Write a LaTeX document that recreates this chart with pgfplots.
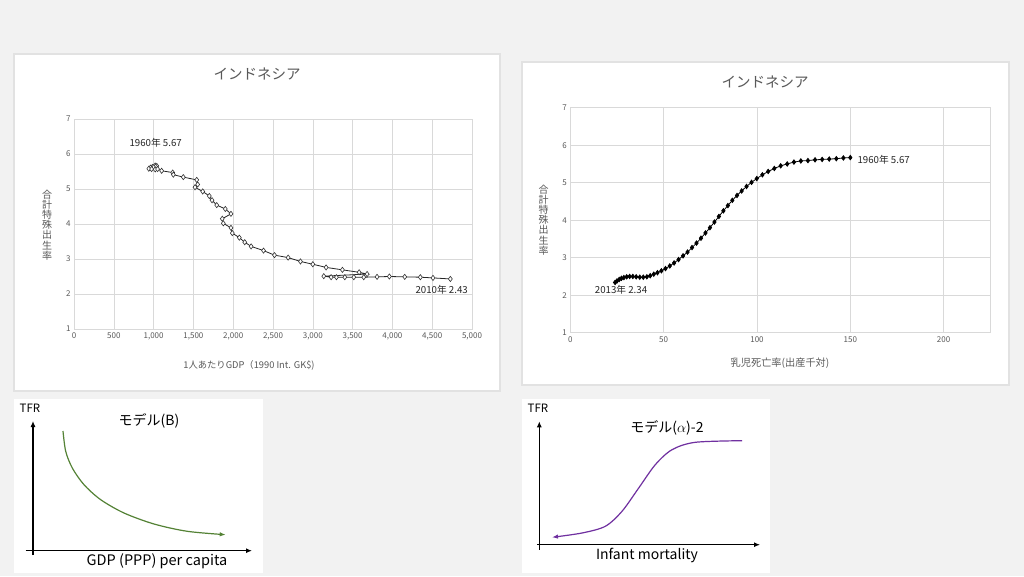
\documentclass[border=0pt]{standalone}
\usepackage{fontspec}
\setmainfont{Noto Sans CJK JP}
\usepackage{pgfplots}
\pgfplotsset{compat=1.18}
\usetikzlibrary{arrows.meta}
\definecolor{bgc}{HTML}{F2F2F2}
\definecolor{panelc}{HTML}{E2E2E2}
\definecolor{gridc}{HTML}{D9D9D9}
\definecolor{tickc}{HTML}{595959}
\definecolor{greenc}{HTML}{548235}
\definecolor{purplec}{HTML}{7030A0}
\begin{document}
\begin{tikzpicture}
\begin{scope}[x=1pt,y=1pt]
\fill[bgc] (0,0) rectangle (1024,576);
\filldraw[fill=white,draw=panelc,line width=1.2pt] (14,522) rectangle (500,185);
\filldraw[fill=white,draw=panelc,line width=1.2pt] (522,514) rectangle (1009,191);
\fill[white] (14,177) rectangle (263,3);
\fill[white] (522,177) rectangle (770,3);
\end{scope}

% ---------- Panel 1 ----------
\begin{axis}[at={(74pt,247pt)},anchor=south west,scale only axis,
  width=398pt,height=210pt,
  xmin=0,xmax=5000,ymin=1,ymax=7,
  xtick={0,500,...,5000},ytick={1,...,7},
  grid=major,grid style={gridc,line width=0.6pt},
  axis line style={gridc,line width=0.6pt},
  major tick length=0pt,
  tick label style={font=\fontsize{8}{9}\selectfont,text=tickc},
  /pgf/number format/assume math mode=true,
  xticklabel style={/pgf/number format/1000 sep={,}},
  scaled x ticks=false,
  clip=false]
\addplot[black!85,line width=0.8pt,mark=diamond*,mark size=2.6pt,
  mark options={fill=white,draw=black!80,line width=0.6pt}] coordinates {
(1019,5.67)(1040,5.66)(1025,5.64)(985,5.63)(1000,5.62)(960,5.61)(940,5.58)(975,5.57)(1020,5.56)(1050,5.57)
(1101,5.52)(1240,5.47)(1248,5.41)(1373,5.34)(1542,5.26)(1554,5.13)(1520,5.05)(1617,4.93)(1700,4.80)(1734,4.68)
(1793,4.54)(1901,4.43)(1972,4.29)(1863,4.15)(1876,4.02)(1972,3.89)(1989,3.74)(2077,3.61)(2145,3.48)(2225,3.36)
(2381,3.24)(2519,3.11)(2690,3.04)(2845,2.93)(3000,2.85)(3167,2.76)(3372,2.69)(3582,2.62)(3682,2.57)
(3138,2.51)(3230,2.48)(3297,2.48)(3402,2.48)(3515,2.48)(3640,2.48)(3807,2.49)(3962,2.50)(4155,2.49)(4351,2.48)(4510,2.46)(4728,2.43)
};
\node[font=\fontsize{9.7}{11}\selectfont,text=black!85] at (axis cs:1026,6.31) {1960年 5.67};
\node[font=\fontsize{9.7}{11}\selectfont,text=black!85] at (axis cs:4619,2.13) {2010年 2.43};
\end{axis}

% ---------- Panel 2 ----------
\begin{axis}[at={(570.3pt,243.3pt)},anchor=south west,scale only axis,
  width=420pt,height=225pt,
  xmin=0,xmax=225,ymin=1,ymax=7,
  xtick={0,50,...,200},ytick={1,...,7},
  grid=major,grid style={gridc,line width=0.6pt},
  axis line style={gridc,line width=0.6pt},
  major tick length=0pt,
  tick label style={font=\fontsize{8}{9}\selectfont,text=tickc},
  /pgf/number format/assume math mode=true,
  clip=false]
\addplot[black,line width=0.8pt,mark=diamond*,mark size=2.2pt,
  mark options={fill=black,draw=black}] coordinates {
(24.0,2.34)(25.0,2.38)(26.2,2.42)(27.4,2.45)(28.7,2.47)(30.2,2.49)(31.8,2.50)(33.5,2.50)(35.3,2.49)(37.2,2.48)
(39.1,2.48)(41.0,2.49)(42.8,2.52)(44.7,2.56)(46.7,2.60)(48.8,2.65)(51.0,2.71)(53.3,2.78)(55.6,2.86)(58.0,2.95)
(60.4,3.05)(62.8,3.15)(65.2,3.27)(67.6,3.39)(70.0,3.52)(72.4,3.66)(74.8,3.80)(77.2,3.95)(79.6,4.10)(82.0,4.25)
(84.4,4.39)(86.8,4.53)(89.3,4.66)(91.8,4.78)(94.4,4.90)(97.1,5.01)(99.9,5.11)(102.9,5.21)(106.0,5.30)(109.3,5.38)
(112.7,5.45)(116.2,5.50)(119.8,5.55)(123.5,5.58)(127.3,5.59)(131.1,5.61)(134.9,5.62)(138.7,5.63)(142.5,5.64)(146.3,5.66)(150.0,5.67)
};
\node[font=\fontsize{9.7}{11}\selectfont,text=black!85,anchor=west] at (axis cs:152,5.61) {1960年 5.67};
\node[font=\fontsize{9.7}{11}\selectfont,text=black!85] at (axis cs:27.2,2.15) {2013年 2.34};
\end{axis}

% ---------- Panel 3 (model B) ----------
\begin{axis}[at={(25.7pt,21pt)},anchor=south west,scale only axis,
  width=226.3pt,height=134pt,
  xmin=-7.3,xmax=219,ymin=-4.3,ymax=129.7,
  axis lines=middle,xtick=\empty,ytick=\empty,
  every inner x axis line/.append style={-{Latex[length=6pt,width=5pt]},line width=1.1pt},
  every inner y axis line/.append style={-{Latex[length=6pt,width=5pt]},line width=1.1pt},
  axis line style={black,line width=1.1pt},
  clip=false]
\addplot[smooth,greenc,line width=1.2pt,-{Latex[length=6pt,width=4.5pt]}] coordinates {
(30,119.7)(32.7,99.4)(39.3,82.7)(51,66)(67.7,51)(91,37.7)(121,26.7)(154.3,19.4)(192.7,16)
};
\end{axis}

% ---------- Panel 4 (model alpha-2) ----------
\begin{axis}[at={(537pt,26.3pt)},anchor=south west,scale only axis,
  width=223pt,height=128.4pt,
  xmin=-2.3,xmax=220.7,ymin=-5,ymax=123.4,
  axis lines=middle,xtick=\empty,ytick=\empty,
  every inner x axis line/.append style={-{Latex[length=6pt,width=5pt]},line width=1.1pt},
  every inner y axis line/.append style={-{Latex[length=6pt,width=5pt]},line width=1.1pt},
  axis line style={black,line width=1.1pt},
  clip=false]
\addplot[smooth,purplec,line width=1.2pt,-{Latex[length=6pt,width=4.5pt]}] coordinates {
(202.7,104)(156,102.4)(132.7,95)(116,80)(99.4,56.7)(82.7,33.4)(66,18.4)(42.7,11.7)(12.7,7.4)
};
\end{axis}

\begin{scope}[x=1pt,y=1pt]
% panel 1 texts
\node[font=\fontsize{14.5}{16}\selectfont,text=tickc] at (257,502) {インドネシア};
\node[font=\fontsize{10}{10.2}\selectfont,text=tickc,align=center] at (47,351) {合\\計\\特\\殊\\出\\生\\率};
\node[font=\fontsize{9.3}{10}\selectfont,text=tickc] at (249,211) {1人あたりGDP（1990 Int. GK\$)};
% panel 2 texts
\node[font=\fontsize{14.5}{16}\selectfont,text=tickc] at (765,494) {インドネシア};
\node[font=\fontsize{10}{10.2}\selectfont,text=tickc,align=center] at (543.7,356) {合\\計\\特\\殊\\出\\生\\率};
\node[font=\fontsize{10.2}{11}\selectfont,text=tickc] at (780,213) {乳児死亡率(出産千対)};
% panel 3 texts
\node[font=\fontsize{11.5}{12}\selectfont] at (30,168) {TFR};
\node[font=\fontsize{14}{15}\selectfont] at (149,155) {モデル(B)};
\node[font=\fontsize{14.5}{15}\selectfont] at (157,15) {GDP (PPP) per capita};
% panel 4 texts
\node[font=\fontsize{11.5}{12}\selectfont] at (538,168) {TFR};
\node[font=\fontsize{14}{15}\selectfont] at (667,148) {モデル($\alpha$)-2};
\node[font=\fontsize{14}{15}\selectfont] at (647,21) {Infant mortality};
\end{scope}
\end{tikzpicture}
\end{document}
